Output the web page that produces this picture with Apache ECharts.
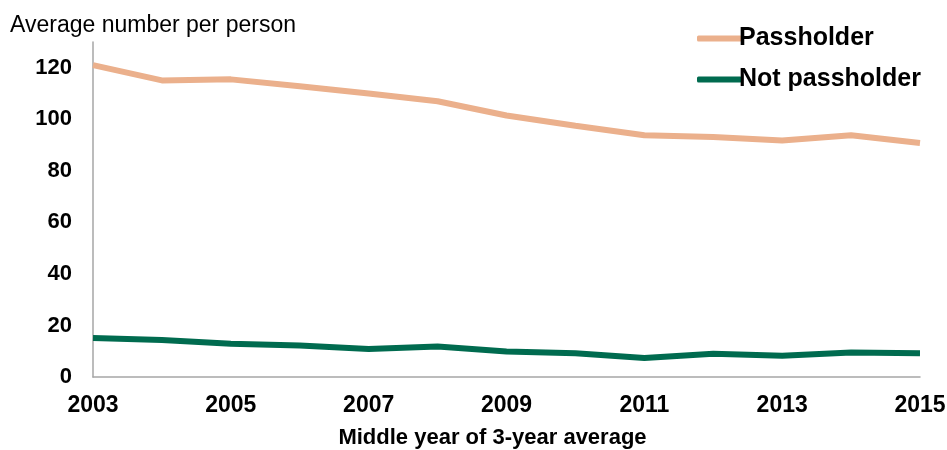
<!DOCTYPE html>
<html>
<head>
<meta charset="utf-8">
<script src="https://cdn.jsdelivr.net/npm/echarts@6/dist/echarts.min.js"></script>
<style>
  html, body { margin: 0; padding: 0; background: #fff; }
  #chart { width: 947px; height: 450px; }
</style>
</head>
<body>
<div id="chart"></div>
<script>
// years on the x axis (middle year of 3-year average)
var years = ['2003', '2004', '2005', '2006', '2007', '2008', '2009',
             '2010', '2011', '2012', '2013', '2014', '2015'];
// average number of journeys per person
var passholder    = [121, 115.1, 115.5, 112.8, 110, 107, 101.5, 97.5, 93.8, 93.1, 91.8, 93.8, 90.8];
var notPassholder = [15.1, 14.4, 12.9, 12.2, 10.9, 11.8, 9.9, 9.2, 7.4, 9.0, 8.2, 9.5, 9.2];

var FONT = "'Liberation Sans', Arial, sans-serif";

var myChart = echarts.init(document.getElementById('chart'));

var option = {
    backgroundColor: '#fff',
    animation: false,
    grid: {
        left: 93,
        right: 27,
        top: 42,
        bottom: 73,
        containLabel: false,
        outerBoundsMode: 'none'
    },
    graphic: [{
        type: 'text',
        left: 10,
        top: 14,
        style: {
            text: 'Average number per person',
            font: '23px ' + FONT,
            fill: '#000'
        }
    }],
    legend: {
        orient: 'vertical',
        left: 692,
        top: 21,
        itemGap: 16,
        itemWidth: 45,
        itemHeight: 6,
        icon: 'roundRect',
        data: ['Passholder', 'Not passholder'],
        textStyle: {
            fontFamily: FONT,
            fontSize: 25,
            fontWeight: 'bold',
            color: '#000',
            padding: [0, 0, 0, -8]
        }
    },
    xAxis: {
        type: 'category',
        data: years,
        boundaryGap: false,
        name: 'Middle year of 3-year average',
        nameLocation: 'middle',
        nameGap: 50,
        nameTextStyle: {
            fontFamily: FONT,
            fontSize: 22,
            fontWeight: 'bold',
            color: '#000',
            padding: [0, 28, 0, 0]
        },
        axisLine: { lineStyle: { color: '#a6a6a6', width: 1.5 } },
        axisTick: { show: false },
        axisLabel: {
            interval: 1,
            margin: 17,
            fontFamily: FONT,
            fontSize: 23,
            fontWeight: 'bold',
            color: '#000'
        },
        splitLine: { show: false }
    },
    yAxis: {
        type: 'value',
        min: 0,
        max: 130,
        interval: 20,
        axisLine: { show: true, lineStyle: { color: '#a6a6a6', width: 1.5 } },
        axisTick: { show: false },
        splitLine: { show: false },
        axisLabel: {
            showMaxLabel: false,
            margin: 21,
            fontFamily: FONT,
            fontSize: 22,
            fontWeight: 'bold',
            color: '#000',
            formatter: function (v) { return v % 20 === 0 ? v : ''; }
        }
    },
    series: [
        {
            name: 'Passholder',
            type: 'line',
            data: passholder,
            showSymbol: false,
            symbol: 'none',
            itemStyle: { color: '#ebb08c' },
            lineStyle: { color: '#ebb08c', width: 6 }
        },
        {
            name: 'Not passholder',
            type: 'line',
            data: notPassholder,
            showSymbol: false,
            symbol: 'none',
            itemStyle: { color: '#006b4f' },
            lineStyle: { color: '#006b4f', width: 6 }
        }
    ]
};

myChart.setOption(option);
</script>
</body>
</html>
